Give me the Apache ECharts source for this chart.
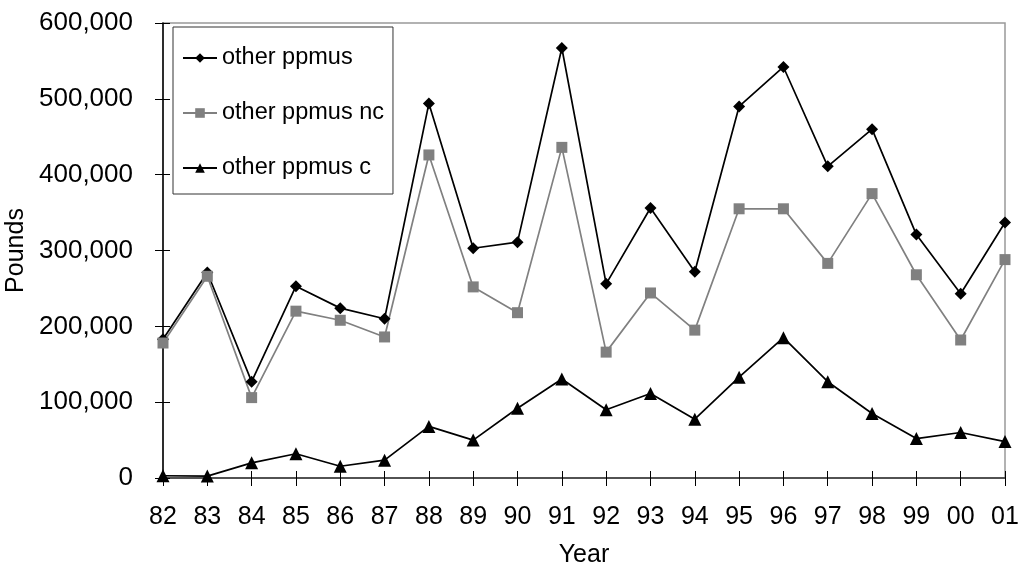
<!DOCTYPE html>
<html>
<head>
<meta charset="utf-8">
<script src="https://cdn.jsdelivr.net/npm/echarts@6/dist/echarts.min.js"></script>
<style>
html,body{margin:0;padding:0;background:#fff;}
#chart{width:1032px;height:567px;}
</style>
</head>
<body>
<div id="chart"></div>
<script>
var years = ['82','83','84','85','86','87','88','89','90','91','92','93','94','95','96','97','98','99','00','01'];
var otherPpmus   = [183000, 271000, 127000, 253000, 224000, 210000, 494000, 303000, 311000, 567000, 256000, 356000, 272000, 490000, 542000, 411000, 460000, 321000, 243000, 337000];
var otherPpmusNc = [178000, 266000, 106000, 220000, 208000, 186000, 426000, 252000, 218000, 436000, 166000, 244000, 195000, 355000, 355000, 283000, 375000, 268000, 182000, 288000];
var otherPpmusC  = [3000, 2500, 20000, 32000, 15500, 23500, 68000, 50000, 92000, 130500, 90000, 111500, 77500, 133000, 185000, 127000, 85000, 52000, 60000, 48000];
var yTicks = {min: 0, max: 600000, interval: 100000};

var FONT = 'Liberation Sans, Arial, sans-serif';
var chart = echarts.init(document.getElementById('chart'), null, {renderer: 'canvas'});
function fmt(v){ return v.toString().replace(/\B(?=(\d{3})+(?!\d))/g, ','); }

var option = {
  backgroundColor: '#ffffff',
  animation: false,
  grid: {left: 163, right: 27, top: 23, bottom: 89, containLabel: false, outerBoundsMode: 'none',
         show: true, borderColor: '#999999', borderWidth: 1.5, backgroundColor: 'transparent'},
  legend: {
    orient: 'vertical', left: 173, top: 27,
    padding: [19, 9, 14, 9],
    itemGap: 31, itemWidth: 34, itemHeight: 12,
    borderColor: '#333333', borderWidth: 1, backgroundColor: '#ffffff',
    textStyle: {fontFamily: FONT, fontSize: 23.5, color: '#000'},
    data: ['other ppmus', 'other ppmus nc', 'other ppmus c']
  },
  xAxis: [{
    type: 'category', data: years, boundaryGap: false,
    name: 'Year', nameLocation: 'middle', nameGap: 65,
    nameTextStyle: {fontFamily: FONT, fontSize: 25, color: '#000'},
    axisLine: {lineStyle: {color: '#333', width: 1.5}},
    axisTick: {length: 8, inside: false, lineStyle: {color: '#000'}},
    axisLabel: {fontFamily: FONT, fontSize: 25, color: '#000', margin: 27, interval: 0},
    splitLine: {show: false}
  }, {
    type: 'category', data: years, boundaryGap: false, position: 'bottom',
    axisLine: {show: false},
    axisTick: {length: 7, inside: true, lineStyle: {color: '#000'}},
    axisLabel: {show: false}, splitLine: {show: false}
  }],
  yAxis: [{
    type: 'value', min: yTicks.min, max: yTicks.max, interval: yTicks.interval,
    name: 'Pounds', nameLocation: 'middle', nameGap: 128,
    nameTextStyle: {fontFamily: FONT, fontSize: 25, color: '#000'},
    axisLine: {show: true, lineStyle: {color: '#000', width: 1.5}},
    axisTick: {show: true, length: 8, inside: false, lineStyle: {color: '#000'}},
    axisLabel: {fontFamily: FONT, fontSize: 26, color: '#000', margin: 30, formatter: fmt},
    splitLine: {show: false}
  }, {
    type: 'value', min: yTicks.min, max: yTicks.max, interval: yTicks.interval, position: 'left',
    axisLine: {show: false},
    axisTick: {show: true, length: 7, inside: true, lineStyle: {color: '#000'}},
    axisLabel: {show: false}, splitLine: {show: false}
  }],
  series: [{
    name: 'other ppmus', type: 'line', data: otherPpmus,
    symbol: 'diamond', symbolSize: 12,
    lineStyle: {color: '#000', width: 1.7},
    itemStyle: {color: '#000'}
  }, {
    name: 'other ppmus nc', type: 'line', data: otherPpmusNc,
    symbol: 'rect', symbolSize: 11,
    lineStyle: {color: '#808080', width: 1.7},
    itemStyle: {color: '#808080'}
  }, {
    name: 'other ppmus c', type: 'line', data: otherPpmusC,
    symbol: 'triangle', symbolSize: 13,
    lineStyle: {color: '#000', width: 1.7},
    itemStyle: {color: '#000'}
  }]
};
chart.setOption(option);
</script>
</body>
</html>
